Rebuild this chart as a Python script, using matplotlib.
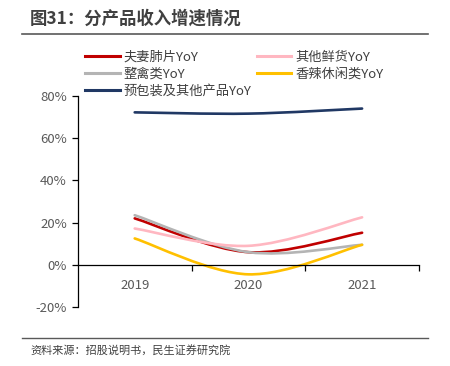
import matplotlib.pyplot as plt
import numpy as np
from matplotlib.path import Path
from matplotlib.patches import PathPatch
from matplotlib.lines import Line2D

plt.rcParams['font.family'] = ['Noto Sans CJK SC', 'DejaVu Sans']

years = ['2019', '2020', '2021']
fuqi = [22.0, 6.0, 15.2]
other_fresh = [17.2, 9.0, 22.5]
poultry = [23.5, 6.0, 9.5]
spicy = [12.5, -4.5, 9.5]
packaged = [72.2, 71.6, 74.0]

series = [
    ('夫妻肺片YoY', fuqi, '#C00000'),
    ('整禽类YoY', poultry, '#B4B4B4'),
    ('预包装及其他产品YoY', packaged, '#203864'),
    ('其他鲜货YoY', other_fresh, '#FFB7C1'),
    ('香辣休闲类YoY', spicy, '#FFC000'),
]


def smooth_path(xs, ys):
    # excel-like smoothed line: cubic bezier segments (catmull-rom tangents)
    pts = np.column_stack([xs, ys]).astype(float)
    n = len(pts)
    verts = [pts[0]]
    codes = [Path.MOVETO]
    for i in range(n - 1):
        p0 = pts[max(i - 1, 0)]
        p1 = pts[i]
        p2 = pts[i + 1]
        p3 = pts[min(i + 2, n - 1)]
        c1 = p1 + (p2 - p0) / 6
        c2 = p2 - (p3 - p1) / 6
        verts += [c1, c2, p2]
        codes += [Path.CURVE4] * 3
    return Path(verts, codes)


fig = plt.figure(figsize=(4.5, 3.66), dpi=100)
ax = fig.add_axes([0.173, 0.161, 0.758, 0.577])

xs = np.arange(len(years))
handles = []
for name, vals, color in series:
    ax.add_patch(PathPatch(smooth_path(xs, vals), fill=False, edgecolor=color,
                           lw=1.9, capstyle='round'))
    handles.append(Line2D([], [], color=color, lw=2.2, label=name))

ax.set_xlim(-0.5, 2.5)
ax.set_ylim(-20, 80)
ax.set_yticks([-20, 0, 20, 40, 60, 80])
ax.set_yticklabels(['-20%', '0%', '20%', '40%', '60%', '80%'])

ax.spines['top'].set_visible(False)
ax.spines['right'].set_visible(False)
ax.spines['bottom'].set_position(('data', 0))
ax.spines['bottom'].set_color('black')
ax.spines['left'].set_color('black')
ax.spines['bottom'].set_linewidth(0.9)
ax.spines['left'].set_linewidth(0.9)

ax.set_xticks([0.5, 1.5, 2.5])
ax.set_xticklabels([])
ax.set_xticks(xs, minor=True)
ax.set_xticklabels(years, minor=True)
ax.tick_params(axis='x', which='major', direction='out', length=4, width=0.9)
ax.tick_params(axis='x', which='minor', length=0, pad=10, labelsize=9.5, labelcolor='#595959')
ax.tick_params(axis='y', direction='out', length=4, width=0.9, labelsize=9.5, labelcolor='#595959', pad=4)

fig.legend(handles=handles, ncol=2, loc='upper left', bbox_to_anchor=(0.178, 0.875),
           frameon=False, fontsize=9.5, labelcolor='#404040', handlelength=2.6,
           handletextpad=0.3, columnspacing=0.4, labelspacing=0.3, borderaxespad=0)

fig.text(0.067, 0.948, '图31：分产品收入增速情况', fontsize=12.5, fontweight='bold',
         color='#404040', va='center')
fig.add_artist(Line2D([0.049, 0.951], [0.908, 0.908], color='#595959', lw=1.2))
fig.add_artist(Line2D([0.049, 0.951], [0.077, 0.077], color='#595959', lw=1.0))
fig.text(0.067, 0.043, '资料来源：招股说明书，民生证券研究院', fontsize=8,
         color='#404040', va='center')

fig.savefig('out.png', dpi=100)
